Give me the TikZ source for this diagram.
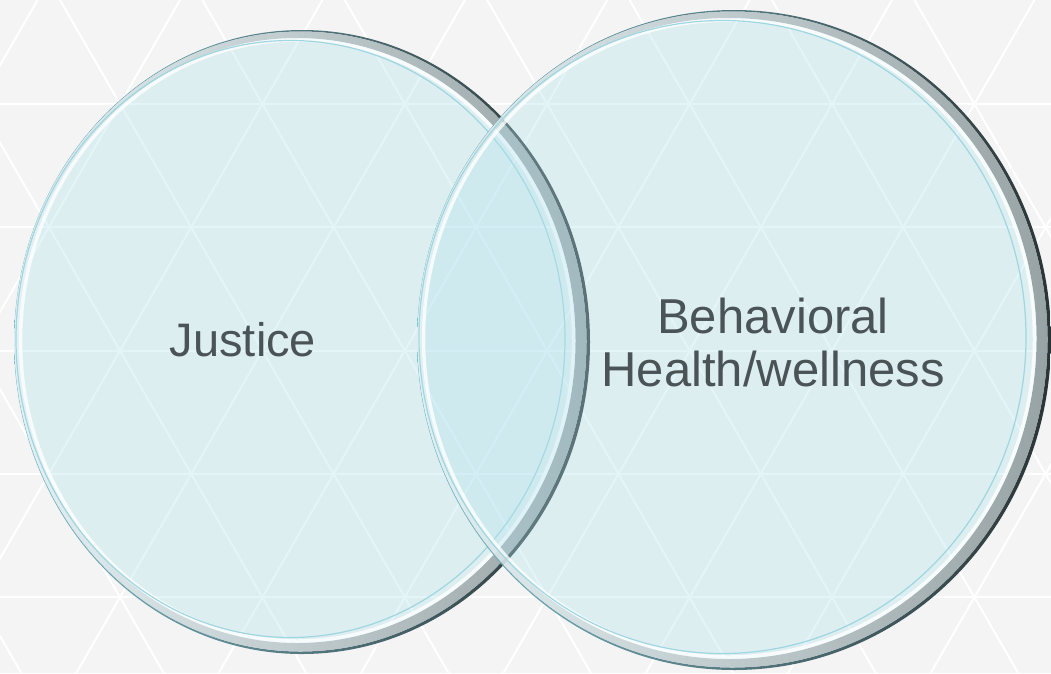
\documentclass[tikz,border=0pt]{standalone}
\usepackage{fontspec}
\setmainfont{Liberation Sans}
\begin{document}
\begin{tikzpicture}[x=1pt,y=-1pt,
  lattice/.style={white,line width=2pt},
  label/.style={text=labelgray,align=center,inner sep=0pt}]
\definecolor{bggray}{HTML}{F4F4F4}
\definecolor{labelgray}{HTML}{4A5356}
\definecolor{glass}{HTML}{B4E4EE}
\definecolor{rimcyan}{HTML}{9ED6E1}
\definecolor{edgelight}{HTML}{7DBDC9}
\definecolor{edgedark}{HTML}{2A3436}
\definecolor{bevellight}{HTML}{E4F1F4}
\definecolor{beveldark}{HTML}{8F9B9E}
\useasboundingbox (0,0) rectangle (1051,673);
\fill[bggray] (0,0) rectangle (1051,673);
% triangular lattice behind the discs
\begin{scope}
  \clip (0,0) rectangle (1051,673);
  \foreach \k in {-1,...,5}
    \draw[lattice] (-10,{104+123.3*\k}) -- (1061,{104+123.3*\k});
  \foreach \k in {-6,...,12} {
    \draw[lattice] ({120+142.4*\k-0.5774*164},-60) -- ({120+142.4*\k+0.5774*629},733);
    \draw[lattice] ({120+142.4*\k+0.5774*164},-60) -- ({120+142.4*\k-0.5774*629},733);
  }
\end{scope}
% a glass disc: #1,#2 centre, #3,#4 radii; lit from the left
\newcommand\glassdisc[4]{%
  % dark outer edge, thicker towards the right
  \shade[even odd rule,left color=edgelight,right color=edgedark]
    (#1,#2) ellipse [x radius=#3,y radius=#4]
    ({#1-1.5},{#2-0.5}) ellipse [x radius={#3-2},y radius={#4-2}];
  % bevelled rim
  \shade[even odd rule,left color=bevellight,right color=beveldark,opacity=.9]
    ({#1-1.5},{#2-0.5}) ellipse [x radius={#3-2},y radius={#4-2}]
    ({#1-5},{#2-1.5}) ellipse [x radius={#3-9.5},y radius={#4-9.5}];
  % translucent body
  \fill[glass,fill opacity=.35]
    ({#1-5},{#2-1.5}) ellipse [x radius={#3-9.5},y radius={#4-9.5}];
  % highlight band and thin cyan rule inside the rim
  \draw[white,line width=3.5pt,opacity=.8]
    ({#1-5},{#2-1.5}) ellipse [x radius={#3-11.5},y radius={#4-11.5}];
  \draw[rimcyan,line width=1.2pt]
    ({#1-11.5},{#2-3}) ellipse [x radius={#3-13.5},y radius={#4-13.5}];
}
\glassdisc{302}{342}{288}{312}
\glassdisc{734}{340}{317}{330}
\node[label,font=\fontsize{47}{52}\selectfont] (justice) at (243,340) {Justice};
\node[label,font=\fontsize{49}{53}\selectfont] (health) at (773,342) {Behavioral\\Health/wellness};
\end{tikzpicture}
\end{document}
